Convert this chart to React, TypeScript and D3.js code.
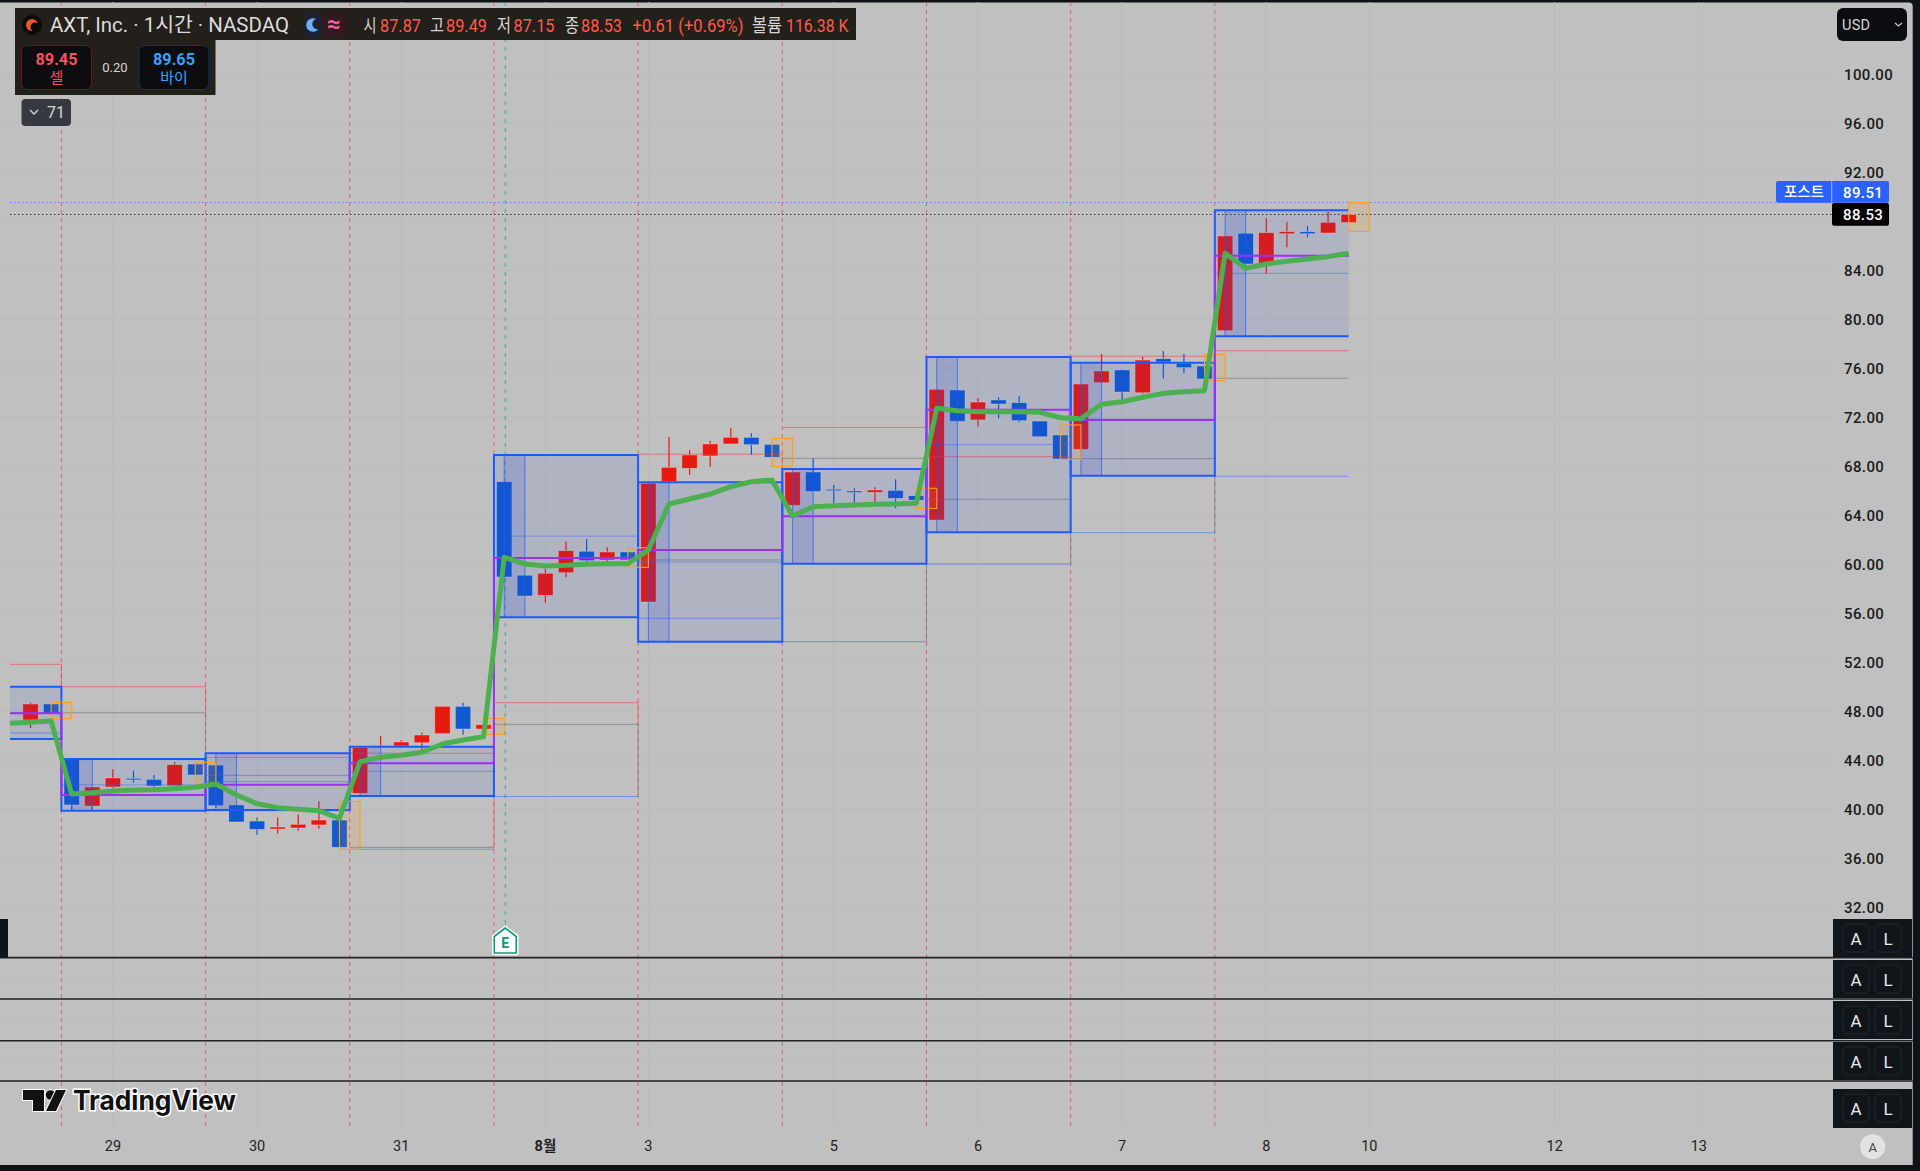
import React, { useEffect, useRef } from 'react';
import * as d3 from 'd3';

// hourly bars, the first one is two bars before the 29th
const opens = [47.27, 48.57, 44.06, 40.24, 41.8, 42.5, 42.42, 41.9, 43.67, 43.59, 40.33, 39.02, 38.37, 38.45, 38.7, 39.1, 41.28, 45.1, 45.14, 45.41, 46.15, 48.38, 46.53, 66.72, 59.08, 57.44, 59.29, 61.04, 60.33, 60.98, 56.9, 66.72, 67.8, 68.82, 69.8, 70.34, 69.77, 64.79, 67.51, 66.1, 65.96, 65.85, 66.01, 65.58, 63.59, 74.2, 71.76, 73.39, 73.17, 71.67, 70.53, 69.36, 74.8, 75.84, 73.98, 76.76, 76.38, 76.16, 79.05, 87.0, 84.38, 86.96, 87.13, 87.02, 87.87];
const closes = [48.57, 47.76, 40.33, 41.8, 42.53, 42.4, 41.88, 43.62, 42.78, 40.27, 38.94, 38.33, 38.53, 38.75, 39.1, 36.87, 45.03, 45.18, 45.47, 46.04, 48.38, 46.53, 46.88, 58.94, 57.39, 59.24, 61.09, 60.27, 60.98, 60.33, 66.59, 67.89, 68.9, 69.8, 70.34, 69.74, 68.71, 67.51, 65.93, 66.0, 65.88, 66.04, 65.36, 65.2, 74.26, 71.65, 73.22, 73.06, 71.7, 70.39, 68.57, 74.69, 75.76, 74.04, 76.65, 76.49, 76.03, 75.1, 86.78, 84.49, 87.05, 87.13, 86.96, 87.89, 88.53];
const highs = [48.7, 48.71, 44.06, 41.8, 43.24, 43.13, 42.78, 43.84, 43.81, 43.8, 40.33, 39.3, 39.3, 39.55, 40.63, 40.63, 45.03, 45.96, 45.63, 46.24, 48.38, 48.68, 47.4, 66.72, 59.08, 59.6, 61.83, 62.05, 61.36, 61.33, 66.59, 70.39, 69.31, 70.06, 71.1, 70.67, 70.26, 67.51, 68.63, 66.45, 66.18, 66.27, 66.92, 66.18, 74.26, 74.2, 73.53, 73.6, 73.71, 71.67, 71.35, 74.69, 77.14, 75.9, 76.92, 77.39, 77.14, 77.12, 86.78, 87.0, 88.24, 87.92, 87.59, 88.73, 89.49];
const lows = [46.61, 47.37, 39.92, 39.92, 41.7, 42.15, 41.74, 41.9, 42.04, 40.1, 38.94, 37.9, 38.0, 38.22, 38.39, 36.71, 41.28, 45.0, 45.0, 44.8, 46.15, 46.07, 46.1, 58.94, 57.39, 56.84, 58.91, 60.1, 60.16, 59.73, 56.9, 66.72, 67.27, 67.94, 69.8, 68.9, 67.94, 64.79, 65.93, 65.0, 65.0, 65.06, 64.55, 64.53, 63.59, 71.65, 71.22, 71.9, 71.6, 70.39, 68.55, 69.36, 74.8, 73.39, 73.9, 75.16, 75.57, 74.96, 79.05, 84.49, 83.73, 85.85, 86.67, 87.02, 87.15];

// green average, the first value is three bars before the 29th
const greenValues = [47.0, 47.08, 47.18, 41.22, 41.33, 41.47, 41.55, 41.58, 41.66, 41.77, 42.04, 41.14, 40.43, 40.11, 39.98, 39.86, 39.24, 43.86, 44.22, 44.38, 44.63, 45.31, 45.63, 45.9, 60.55, 60.0, 59.84, 59.89, 59.98, 60.02, 60.02, 61.14, 64.9, 65.31, 65.71, 66.31, 66.72, 66.86, 63.92, 64.68, 64.76, 64.82, 64.87, 64.9, 64.96, 72.71, 72.51, 72.43, 72.43, 72.43, 72.38, 71.94, 71.86, 73.04, 73.25, 73.61, 73.93, 74.07, 74.15, 85.36, 84.14, 84.49, 84.71, 84.9, 85.09, 85.36];

// one entry per session, the first session is cut by the left edge
const boxTops = [49.98, 44.08, 44.55, 45.09, 68.9, 66.67, 67.76, 76.9, 76.43, 88.87];
const boxBottoms = [45.71, 39.86, 39.92, 41.06, 55.65, 53.66, 60.02, 62.59, 67.21, 78.59];
const purpleLevels = [47.81, 41.14, 41.98, 43.73, 60.49, 61.14, 63.89, 72.6, 71.76, 85.17];
const prevHighs = [51.81, 49.98, 44.22, 44.55, 48.68, 68.96, 71.15, 68.76, 76.96, 77.41];
const prevCloses = [47.81, 47.86, 42.75, 36.87, 46.91, 60.33, 68.63, 65.28, 68.6, 75.16];
const prevLows = [46.2, 44.08, 39.86, 36.71, 41.02, 55.57, 53.66, 60, 62.56, 67.16];

const priceTicks = [100, 96, 92, 88, 84, 80, 76, 72, 68, 64, 60, 56, 52, 48, 44, 40, 36, 32];
const timeLabels = ['29', '30', '31', '8월', '3', '5', '6', '7', '8', '10', '12', '13'];
const timeBars = [2, 9, 16, 23, 28, 37, 44, 51, 58, 63, 72, 79];
const sessionBars = [0, 7, 14, 21, 28, 35, 42, 49, 56];
const earningsBar = 21.05;
const paneLines = [957.6, 999, 1040.8, 1081];
const paneGrid = [979, 1020, 1061];
const alButtonTops = [919, 960, 1001, 1042, 1089];

const headerParts = [
  { text: '시', x: 363.5, w: 13, color: '#d6d6d6' },
  { text: '87.87', x: 380, w: 41, color: '#ff5b4a' },
  { text: '고', x: 430, w: 14, color: '#d6d6d6' },
  { text: '89.49', x: 446, w: 41, color: '#ff5b4a' },
  { text: '저', x: 497, w: 14, color: '#d6d6d6' },
  { text: '87.15', x: 513.5, w: 41, color: '#ff5b4a' },
  { text: '종', x: 565, w: 14, color: '#d6d6d6' },
  { text: '88.53', x: 581, w: 41, color: '#ff5b4a' },
  { text: '+0.61 (+0.69%)', x: 632.5, w: 111, color: '#ff5b4a' },
  { text: '볼륨', x: 752, w: 30, color: '#d6d6d6' },
  { text: '116.38 K', x: 786, w: 62.5, color: '#ff5b4a' },
];

const FONT = "Roboto, 'Noto Sans CJK KR', sans-serif";
const LEFT_EDGE = 10;

const App: React.FC = () => {
  const ref = useRef<SVGSVGElement | null>(null);

  useEffect(() => {
    const svg = d3.select(ref.current);
    svg.selectAll('*').remove();

    const x = d3.scaleLinear().domain([0, 62]).range([71.7, 1348.7]);
    const y = d3.scaleLinear().domain([100, 32]).range([74, 907]);
    const step = x(1) - x(0);

    const addText = (parent: any, text: string, tx: number, ty: number, size: number, fill: string, anchor = 'start', weight = 400) =>
      parent.append('text')
        .attr('x', tx)
        .attr('y', ty)
        .attr('font-size', size)
        .attr('font-family', FONT)
        .attr('font-weight', weight)
        .attr('fill', fill)
        .attr('text-anchor', anchor)
        .text(text);

    // page and plot background
    svg.append('rect').attr('width', 1920).attr('height', 1171).attr('fill', '#0f1216');
    svg.append('path')
      .attr('d', 'M0 2.5H1908.7a4 4 0 0 1 4 4V1165H0Z')
      .attr('fill', '#c0c0c0');

    // grid
    priceTicks.forEach(p => {
      svg.append('line').attr('x1', 0).attr('x2', 1832).attr('y1', y(p)).attr('y2', y(p)).attr('stroke', '#bababa');
    });
    paneGrid.forEach(py => {
      svg.append('line').attr('x1', 0).attr('x2', 1832).attr('y1', py).attr('y2', py).attr('stroke', '#bababa');
    });
    timeBars.forEach(b => {
      svg.append('line').attr('x1', x(b)).attr('x2', x(b)).attr('y1', 2).attr('y2', 1127).attr('stroke', '#bababa');
    });

    // session separators
    sessionBars.forEach(b => {
      const sx = x(b - 0.5);
      svg.append('line').attr('x1', sx).attr('x2', sx).attr('y1', 2).attr('y2', 1127)
        .attr('stroke', '#ef4a50').attr('stroke-opacity', 0.8).attr('stroke-width', 1).attr('stroke-dasharray', '4,4');
    });
    svg.append('line').attr('x1', x(earningsBar)).attr('x2', x(earningsBar)).attr('y1', 2).attr('y2', 925)
      .attr('stroke', '#089981').attr('stroke-opacity', 0.7).attr('stroke-width', 1).attr('stroke-dasharray', '4,5');

    // last price lines
    svg.append('line').attr('x1', LEFT_EDGE).attr('x2', 1832).attr('y1', y(89.51)).attr('y2', y(89.51))
      .attr('stroke', '#5f82ee').attr('stroke-dasharray', '1.5,2.5');
    svg.append('line').attr('x1', LEFT_EDGE).attr('x2', 1832).attr('y1', y(88.53)).attr('y2', y(88.53))
      .attr('stroke', '#333').attr('stroke-dasharray', '1.5,2.5');

    // candles
    const candles = svg.append('g');
    opens.forEach((o, i) => {
      const bar = i - 2;
      const c = closes[i];
      const color = c >= o ? '#e8190e' : '#1158d1';
      const cx = x(bar);
      const lastOfDay = ((bar % 7) + 7) % 7 === 6;
      if (!lastOfDay) {
        candles.append('line').attr('x1', cx).attr('x2', cx).attr('y1', y(highs[i])).attr('y2', y(lows[i]))
          .attr('stroke', color).attr('stroke-width', 1.2);
      }
      const top = y(Math.max(o, c));
      const h = Math.max(1.5, Math.abs(y(o) - y(c)));
      candles.append('rect').attr('x', cx - 7.7).attr('y', top).attr('width', 15.4).attr('height', h)
        .attr('fill', color).attr('stroke', 'rgba(235,235,235,.45)').attr('stroke-width', 0.8);
    });

    // session boxes
    const lastSession = boxTops.length - 1;
    const sessionStart = (k: number) => (k === 0 ? LEFT_EDGE : x(7 * (k - 1) - 0.5));
    const sessionEnd = (k: number) => (k === lastSession ? x(62) : x(7 * k - 0.5));

    boxTops.forEach((top, k) => {
      const x0 = sessionStart(k);
      const x1 = sessionEnd(k);
      const yTop = y(top);
      const yBottom = y(boxBottoms[k]);

      // previous session high, close, low
      const g = svg.append('g').attr('fill', 'none');
      g.append('line').attr('x1', x0).attr('x2', x1).attr('y1', y(prevHighs[k])).attr('y2', y(prevHighs[k])).attr('stroke', 'rgba(240,60,60,.55)');
      g.append('line').attr('x1', x0).attr('x2', x1).attr('y1', y(prevCloses[k])).attr('y2', y(prevCloses[k])).attr('stroke', 'rgba(110,110,125,.6)');
      g.append('line').attr('x1', x0).attr('x2', x1).attr('y1', y(prevLows[k])).attr('y2', y(prevLows[k])).attr('stroke', 'rgba(41,98,255,.5)');
      if (k !== lastSession) {
        g.append('line').attr('x1', x1).attr('x2', x1).attr('y1', y(prevHighs[k])).attr('y2', y(prevCloses[k])).attr('stroke', 'rgba(240,60,60,.55)');
        g.append('line').attr('x1', x1).attr('x2', x1).attr('y1', y(prevCloses[k])).attr('y2', y(prevLows[k])).attr('stroke', 'rgba(110,110,125,.6)');
      }

      svg.append('rect').attr('x', x0).attr('y', yTop).attr('width', x1 - x0).attr('height', yBottom - yTop)
        .attr('fill', 'rgba(41,70,210,.1)');

      // first hour band
      if (k > 0) {
        const b0 = 7 * (k - 1);
        svg.append('rect').attr('x', x(b0)).attr('y', yTop).attr('width', step).attr('height', yBottom - yTop)
          .attr('fill', 'rgba(41,80,220,.16)');
        [b0, b0 + 1].forEach(b => {
          svg.append('line').attr('x1', x(b)).attr('x2', x(b)).attr('y1', yTop).attr('y2', yBottom)
            .attr('stroke', 'rgba(30,91,255,.7)').attr('stroke-width', 1);
        });
      }

      // box midline
      const mid = (yTop + yBottom) / 2;
      svg.append('line').attr('x1', x0).attr('x2', x1).attr('y1', mid).attr('y2', mid).attr('stroke', 'rgba(41,98,255,.45)');

      // outline, the cut session and the running one stay open on one side
      let outline = `M${x0} ${yTop}H${x1}V${yBottom}H${x0}Z`;
      if (k === 0) outline = `M${x0} ${yTop}H${x1}V${yBottom}H${x0}`;
      if (k === lastSession) outline = `M${x1} ${yTop}H${x0}V${yBottom}H${x1}`;
      svg.append('path')
        .attr('d', outline)
        .attr('fill', 'none').attr('stroke', '#1e5bff').attr('stroke-width', 2);
    });

    // orange marker on the last bar of each session
    opens.forEach((_, i) => {
      const bar = i - 2;
      if (((bar % 7) + 7) % 7 !== 6) return;
      const yHigh = y(highs[i]);
      svg.append('rect').attr('x', x(bar)).attr('y', yHigh).attr('width', step).attr('height', y(lows[i]) - yHigh)
        .attr('fill', 'rgba(255,152,0,.12)').attr('stroke', '#ff9f1a').attr('stroke-width', 1.1);
    });

    // purple step line
    const purplePoints: [number, number][] = purpleLevels.map((p, k) => [sessionStart(k), y(p)]);
    purplePoints.push([x(62), y(purpleLevels[purpleLevels.length - 1])]);
    svg.append('path')
      .attr('d', d3.line().curve(d3.curveStepAfter)(purplePoints))
      .attr('fill', 'none').attr('stroke', '#9b30f5').attr('stroke-width', 2);

    // green average
    const green = d3.line<number>().x((_, i) => x(i - 3)).y(d => y(d));
    svg.append('path')
      .attr('d', green(greenValues))
      .attr('fill', 'none').attr('stroke', '#4caf50').attr('stroke-width', 5).attr('stroke-linejoin', 'round');

    // panes below the chart
    paneLines.forEach(py => {
      svg.append('line').attr('x1', 0).attr('x2', 1912.7).attr('y1', py).attr('y2', py).attr('stroke', '#202226').attr('stroke-width', 1.6);
    });
    svg.append('rect').attr('x', 0).attr('y', 919).attr('width', 8).attr('height', 38.6).attr('fill', '#0f1419');

    // price axis
    priceTicks.filter(p => p !== 88).forEach(p => {
      addText(svg, p.toFixed(2), 1844, y(p) + 5.5, 15, '#1a1a1a', 'start', 500).attr('letter-spacing', 0.4);
    });

    // time axis
    timeLabels.forEach((label, i) => {
      const bold = label === '8월';
      addText(svg, label, x(timeBars[i]), 1151, 14.5, '#1e1e1e', 'middle', bold ? 700 : 400);
    });

    // A / L buttons
    alButtonTops.forEach(top => {
      const h = top === 1089 ? 39 : 38;
      svg.append('rect').attr('x', 1833).attr('y', top).attr('width', 79).attr('height', h).attr('fill', '#101519');
      [{ t: 'A', bx: 1843 }, { t: 'L', bx: 1875 }].forEach(({ t, bx }) => {
        svg.append('rect').attr('x', bx).attr('y', top + 5).attr('width', 26).attr('height', 28).attr('rx', 5)
          .attr('fill', 'none').attr('stroke', '#23282c');
        addText(svg, t, bx + 13, top + 25.5, 17, '#e8e8e8', 'middle');
      });
    });
    svg.append('circle').attr('cx', 1872.7).attr('cy', 1146.7).attr('r', 12.5).attr('fill', '#e2e2e2');
    addText(svg, 'A', 1872.7, 1151.5, 13, '#444', 'middle');

    // price labels
    svg.append('rect').attr('x', 1776).attr('y', 181).attr('width', 113).attr('height', 21.7).attr('rx', 2).attr('fill', '#2962ff');
    svg.append('line').attr('x1', 1831.7).attr('x2', 1831.7).attr('y1', 181).attr('y2', 202.7).attr('stroke', '#9db5ff');
    addText(svg, '포스트', 1804, 197, 14.5, '#fff', 'middle', 500);
    addText(svg, '89.51', 1843, 197.5, 15, '#fff', 'start', 500).attr('letter-spacing', 0.4);
    svg.append('rect').attr('x', 1832).attr('y', 203).attr('width', 57).attr('height', 22.7).attr('rx', 2).attr('fill', '#000');
    addText(svg, '88.53', 1843, 220, 15, '#fff', 'start', 500).attr('letter-spacing', 0.4);

    // currency button
    svg.append('rect').attr('x', 1837).attr('y', 8).attr('width', 70).attr('height', 33).attr('rx', 6).attr('fill', '#0c0d10');
    addText(svg, 'USD', 1842, 30, 14.5, '#d6d6d6').attr('letter-spacing', 0.3);
    svg.append('path').attr('d', 'M1895 23l3.5 3 3.5-3').attr('fill', 'none').attr('stroke', '#ccc').attr('stroke-width', 1.2);

    // legend panel
    const panelBg = '#231f1a';
    svg.append('path').attr('d', 'M15 8H856V40H215.5V95H15Z').attr('fill', panelBg);
    svg.append('circle').attr('cx', 32).attr('cy', 25).attr('r', 10).attr('fill', '#0b0b0b');
    svg.append('circle').attr('cx', 32).attr('cy', 25).attr('r', 6).attr('fill', '#f0562a');
    svg.append('circle').attr('cx', 35).attr('cy', 27).attr('r', 4.5).attr('fill', '#0b0b0b');
    addText(svg, 'AXT, Inc. · 1시간 · NASDAQ', 50, 31.5, 20, '#dcdcdc')
      .attr('textLength', 239).attr('lengthAdjust', 'spacingAndGlyphs');

    svg.append('rect').attr('x', 305).attr('y', 13).attr('width', 16).attr('height', 24).attr('rx', 3).attr('fill', '#1c2233');
    svg.append('circle').attr('cx', 313).attr('cy', 25).attr('r', 6.8).attr('fill', '#6aaefc');
    svg.append('circle').attr('cx', 317.5).attr('cy', 24).attr('r', 5.2).attr('fill', '#1c2233');
    svg.append('rect').attr('x', 322).attr('y', 13).attr('width', 24).attr('height', 24).attr('rx', 3).attr('fill', '#33191f');
    addText(svg, '≈', 334, 31.5, 24, '#f25ca2', 'middle', 700);

    headerParts.forEach(part => {
      addText(svg, part.text, part.x, 31.5, 18.5, part.color)
        .attr('textLength', part.w).attr('lengthAdjust', 'spacingAndGlyphs');
    });

    svg.append('rect').attr('x', 21.5).attr('y', 45.5).attr('width', 70).attr('height', 44).attr('rx', 6)
      .attr('fill', '#0d0d0f').attr('stroke', '#6e1620');
    addText(svg, '89.45', 56.5, 64.5, 16, '#f7525f', 'middle', 700).attr('textLength', 42).attr('lengthAdjust', 'spacingAndGlyphs');
    addText(svg, '셀', 56.5, 83, 15, '#f7525f', 'middle');
    addText(svg, '0.20', 115, 72, 13, '#d6d6d6', 'middle');
    svg.append('rect').attr('x', 139).attr('y', 45.5).attr('width', 70).attr('height', 44).attr('rx', 6)
      .attr('fill', '#0d0d0f').attr('stroke', '#12306e');
    addText(svg, '89.65', 174, 64.5, 16, '#3ba0ff', 'middle', 700).attr('textLength', 42).attr('lengthAdjust', 'spacingAndGlyphs');
    addText(svg, '바이', 174, 83, 15, '#3ba0ff', 'middle');

    svg.append('rect').attr('x', 21.5).attr('y', 99).attr('width', 49.5).attr('height', 27).attr('rx', 4).attr('fill', '#363a40');
    svg.append('path').attr('d', 'M30 110l4 4 4-4').attr('fill', 'none').attr('stroke', '#d6d6d6').attr('stroke-width', 1.3);
    addText(svg, '71', 47, 118, 16, '#d6d6d6');

    // earnings badge
    const ex = x(earningsBar);
    svg.append('path')
      .attr('d', `M${ex} 927L${ex + 12} 936V954H${ex - 12}V936Z`)
      .attr('fill', '#fff').attr('stroke', '#fff').attr('stroke-width', 2.5).attr('stroke-linejoin', 'round');
    svg.append('path')
      .attr('d', `M${ex} 928L${ex + 11} 936.5V953H${ex - 11}V936.5Z`)
      .attr('fill', '#fff').attr('stroke', '#089981').attr('stroke-width', 1.6).attr('stroke-linejoin', 'round');
    addText(svg, 'E', ex, 948, 14, '#089981', 'middle', 700);

    // watermark
    const logo = svg.append('g').attr('transform', 'translate(23,1089)')
      .attr('fill', '#111').attr('stroke', '#fff').attr('stroke-width', 2).attr('paint-order', 'stroke');
    logo.append('path').attr('d', 'M0 1H21V22H10V11H0Z');
    logo.append('circle').attr('cx', 27.5).attr('cy', 6).attr('r', 4.8);
    logo.append('path').attr('d', 'M33 1H43L33 22H23Z');
    addText(svg, 'TradingView', 73, 1110, 27, '#111', 'start', 700)
      .attr('stroke', '#fff').attr('stroke-width', 3).attr('paint-order', 'stroke')
      .attr('textLength', 163).attr('lengthAdjust', 'spacingAndGlyphs')
      .attr('font-family', "Inter, Roboto, sans-serif");
  }, []);

  return (
    <div style={{ position: 'absolute', left: 0, top: 0, width: 1920, height: 1171, overflow: 'hidden' }}>
      <svg ref={ref} width={1920} height={1171} style={{ display: 'block' }} />
    </div>
  );
};

export default App;
